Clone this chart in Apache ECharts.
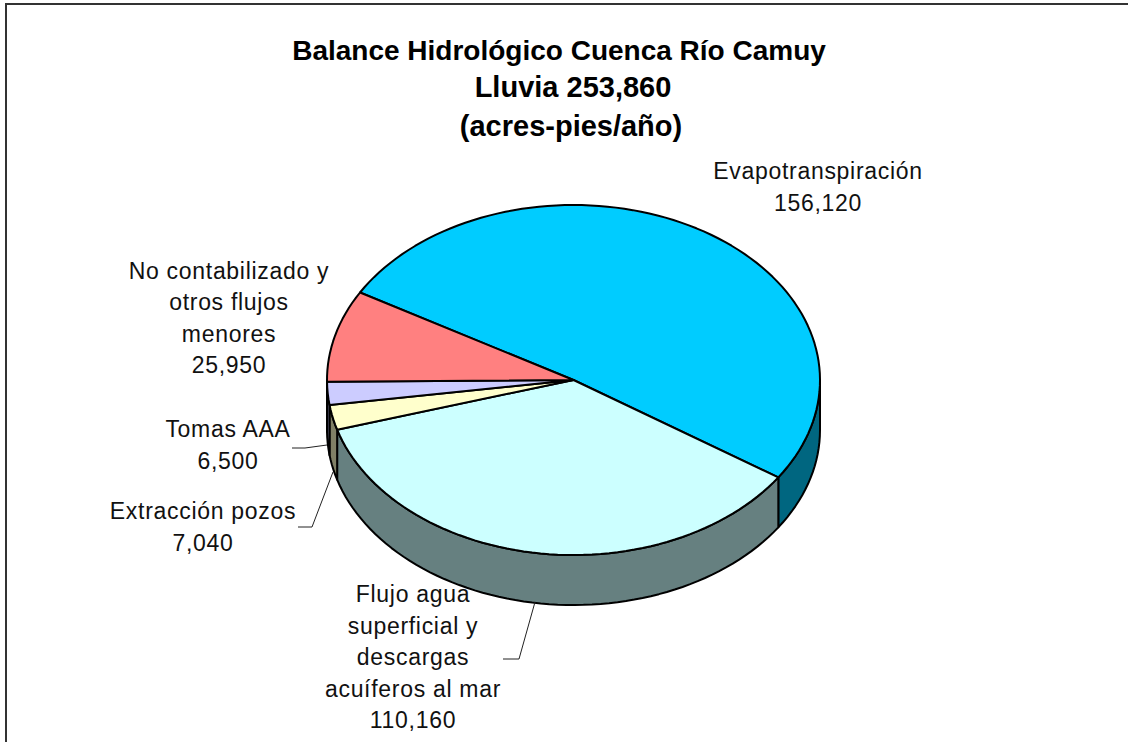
<!DOCTYPE html>
<html>
<head>
<meta charset="utf-8">
<title>Balance Hidrológico Cuenca Río Camuy</title>
<style>
    html, body { margin: 0; padding: 0; background: #fff; }
    #main { width: 1128px; height: 742px; }
    /* el original tiene el texto mas espaciado */
    #main text { letter-spacing: 0.7px; }
    #main text[style*="bold"] { letter-spacing: 0; }
</style>
<script src="https://cdn.jsdelivr.net/npm/echarts@6/dist/echarts.min.js"></script>
</head>
<body>
<div id="main"></div>
<script>
// datos de la grafica
var categories = ['Evapotranspiración', 'Flujo agua\nsuperficial y\ndescargas\nacuíferos al mar', 'Extracción pozos', 'Tomas AAA', 'No contabilizado y\notros flujos\nmenores'];
var values = [156120, 110160, 7040, 6500, 25950];
var titleLines = ['Balance Hidrológico Cuenca Río Camuy', 'Lluvia 253,860', '(acres-pies/año)'];

// colores: cara superior y pared lateral
var topColors = ['#00ccff', '#ccffff', '#ffffcc', '#ccccff', '#ff8080'];
var wallColors = ['#006680', '#668080', '#808066', '#666680', '#804040'];

// geometria del pastel 3D (elipse + profundidad)
var pie = { cx: 573.5, cy: 380, rx: 246.5, ry: 175, depth: 50, start: -60 };

// posicion de las etiquetas y lineas guia
var labelPos = [[818, 187], [413, 657], [203, 527], [228, 445], [229, 318]];
var leaders = [null, [[503, 659], [519, 659], [535, 602]], [[298, 527], [312, 527], [333, 472]], [[292, 448], [305, 448], [327, 445]], null];
var titleLeft = [554, 568, 566];
var titleTop = [27, 63, 102];
var titleSize = [28, 29, 29];

var total = values.reduce(function (a, b) { return a + b; }, 0);

function pt(deg, dy) {
    var r = deg * Math.PI / 180;
    return [pie.cx + pie.rx * Math.sin(r), pie.cy - pie.ry * Math.cos(r) + (dy || 0)];
}

function arc(from, to, dy) {
    var pts = [];
    var n = Math.max(2, Math.ceil((to - from) / 2));
    for (var i = 0; i <= n; i++) {
        pts.push(pt(from + (to - from) * i / n, dy));
    }
    return pts;
}

function renderItem(params, api) {
    var i = params.dataIndex;
    var before = 0;
    for (var k = 0; k < i; k++) before += values[k];
    var a0 = pie.start + before / total * 360;
    var a1 = a0 + api.value(0) / total * 360;
    var children = [];
    var line = { stroke: '#000', lineWidth: 2, lineJoin: 'round' };

    // pared lateral, solo la mitad de abajo se ve
    var w0 = Math.max(a0, 90), w1 = Math.min(a1, 270);
    if (w1 > w0) {
        children.push({
            type: 'polygon',
            shape: { points: arc(w0, w1, 0).concat(arc(w0, w1, pie.depth).reverse()) },
            style: Object.assign({ fill: wallColors[i] }, line)
        });
    }
    // cara superior
    children.push({
        type: 'polygon',
        shape: { points: [[pie.cx, pie.cy]].concat(arc(a0, a1, 0)) },
        style: Object.assign({ fill: topColors[i] }, line)
    });
    if (leaders[i]) {
        children.push({
            type: 'polyline',
            z2: 5,
            shape: { points: leaders[i] },
            style: { stroke: '#222', lineWidth: 1, fill: null }
        });
    }
    children.push({
        type: 'text',
        z2: 10,
        style: {
            text: categories[i] + '\n' + api.value(0).toLocaleString('en-US'),
            x: labelPos[i][0],
            y: labelPos[i][1],
            align: 'center',
            verticalAlign: 'middle',
            fontFamily: 'Liberation Sans',
            fontSize: 23,
            lineHeight: 31.5,
            fill: '#111'
        }
    });
    return { type: 'group', children: children };
}

var myChart = echarts.init(document.getElementById('main'), null, { renderer: 'svg' });
var option = {
    backgroundColor: '#fff',
    animation: false,
    title: titleLines.map(function (t, i) {
        return {
            text: t,
            left: titleLeft[i],
            top: titleTop[i],
            textAlign: 'center',
            textStyle: {
                fontFamily: 'Liberation Sans',
                fontSize: titleSize[i],
                fontWeight: 'bold',
                lineHeight: 37.5,
                color: '#000'
            }
        };
    }),
    graphic: [{
        type: 'polyline',
        shape: { points: [[6, 742], [6, 4], [1128, 4]] },
        style: { stroke: '#333', lineWidth: 2, fill: null }
    }],
    series: [{
        type: 'custom',
        coordinateSystem: 'none',
        renderItem: renderItem,
        data: values.map(function (v) { return [v]; }),
        silent: true
    }]
};
myChart.setOption(option);
</script>
</body>
</html>
